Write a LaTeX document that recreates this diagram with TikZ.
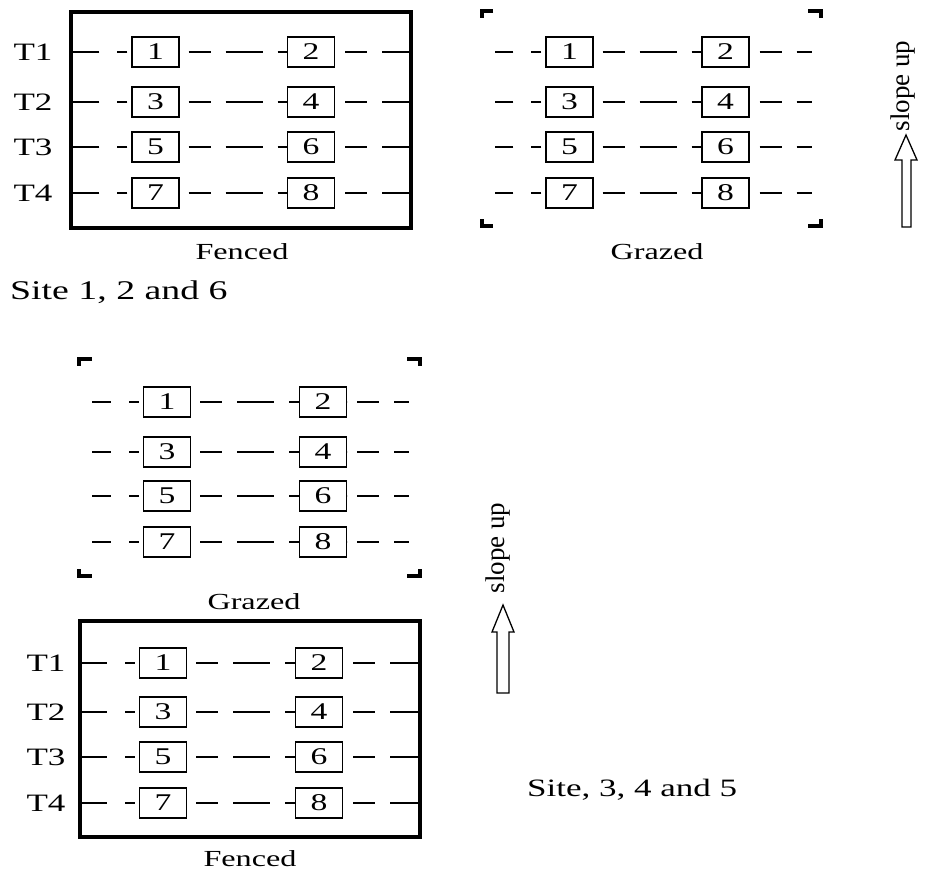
\documentclass[tikz,border=0pt]{standalone}
\usepackage{fontspec}
\setmainfont{Liberation Serif}[FakeStretch=1.4]
\newfontfamily\slopefont{Liberation Serif}
\usetikzlibrary{calc}
\tikzset{
  plot/.style={draw, line width=1.4pt, minimum width=47pt, minimum height=30pt, inner sep=0pt, font=\fontsize{24}{24}\selectfont},
  tlab/.style={inner sep=0pt, font=\fontsize{25}{25}\selectfont},
  lab/.style={inner sep=0pt, font=\fontsize{23}{23}\selectfont},
  sitelab/.style={inner sep=0pt, anchor=west, font=\fontsize{27}{27}\selectfont},
  slopelab/.style={inner sep=0pt, rotate=90, font=\slopefont\fontsize{27}{27}\selectfont},
  fence/.style={line width=4.5pt},
  corner/.style={line width=4pt},
  segL/.style={line width=1.3pt, dash pattern=on 10pt off 18pt on 200pt off 4pt, dash phase=228pt},
  segM/.style={line width=1.3pt, dash pattern=on 22pt off 15pt on 37pt off 15pt on 100pt off 9pt, dash phase=189pt},
  segR/.style={line width=1.3pt, dash pattern=on 22pt off 15pt on 200pt off 10pt, dash phase=237pt},
  slopearrow/.style={line width=1.3pt}
}
\begin{document}
\begin{tikzpicture}[x=1pt,y=-1pt]
\fill[white] (0,0) rectangle (926,872);
\useasboundingbox (0,0) rectangle (926,872);

% ---------- Top-left: Fenced (Site 1, 2 and 6) ----------
\foreach \i/\y/\a/\b in {1/52/1/2, 2/102/3/4, 3/147/5/6, 4/193/7/8} {
  \node[plot] (A\a) at (155.5,\y) {\a};
  \node[plot] (A\b) at (311,\y) {\b};
  \node[tlab] (AT\i) at (33,\y) {T\i};
  \coordinate (AL\i) at (71,\y);
  \coordinate (AR\i) at (411,\y);
  \draw[segL] (A\a.west) -- (AL\i);
  \draw[segM] (A\a.east) -- (A\b.west);
  \draw[segR] (A\b.east) -- (AR\i);
}
\draw[fence] (71,12) rectangle (411,228);
\node[lab] (Afenced) at (242,252) {Fenced};
\node[sitelab] (Asite) at (10,292) {Site 1, 2 and 6};

% ---------- Top-right: Grazed ----------
\foreach \i/\y/\a/\b in {1/52/1/2, 2/102/3/4, 3/147/5/6, 4/193/7/8} {
  \node[plot] (B\a) at (569.5,\y) {\a};
  \node[plot] (B\b) at (725.5,\y) {\b};
  \coordinate (BL\i) at (495,\y);
  \coordinate (BR\i) at (812,\y);
  \draw[segL] (B\a.west) -- (BL\i);
  \draw[segM] (B\a.east) -- (B\b.west);
  \draw[segR] (B\b.east) -- (BR\i);
}
\draw[corner] (493,11) -- (482,11) -- (482,18);
\draw[corner] (808,11) -- (821,11) -- (821,18);
\draw[corner] (482,219) -- (482,226) -- (493,226);
\draw[corner] (821,219) -- (821,226) -- (808,226);
\node[lab] (Bgrazed) at (657,252) {Grazed};

% top slope arrow
\draw[slopearrow] (902,227) -- (902,160) -- (895,160) -- (906,135) -- (917,160) -- (911,160) -- (911,227) -- cycle;
\node[slopelab] (Bslope) at (903,86) {slope up};

% ---------- Bottom: Grazed ----------
\foreach \i/\y/\a/\b in {1/402/1/2, 2/452/3/4, 3/496/5/6, 4/542/7/8} {
  \node[plot] (C\a) at (167,\y) {\a};
  \node[plot] (C\b) at (323,\y) {\b};
  \coordinate (CL\i) at (92,\y);
  \coordinate (CR\i) at (409,\y);
  \draw[segL] (C\a.west) -- (CL\i);
  \draw[segM] (C\a.east) -- (C\b.west);
  \draw[segR] (C\b.east) -- (CR\i);
}
\draw[corner] (92,359) -- (79,359) -- (79,366);
\draw[corner] (407,359) -- (420,359) -- (420,366);
\draw[corner] (79,569) -- (79,576) -- (92,576);
\draw[corner] (420,569) -- (420,576) -- (407,576);
\node[lab] (Cgrazed) at (254,602) {Grazed};

% ---------- Bottom: Fenced ----------
\foreach \i/\y/\a/\b in {1/663/1/2, 2/712/3/4, 3/757/5/6, 4/803/7/8} {
  \node[plot] (D\a) at (163,\y) {\a};
  \node[plot] (D\b) at (319,\y) {\b};
  \node[tlab] (DT\i) at (46,\y) {T\i};
  \coordinate (DL\i) at (80,\y);
  \coordinate (DR\i) at (420,\y);
  \draw[segL] (D\a.west) -- (DL\i);
  \draw[segM] (D\a.east) -- (D\b.west);
  \draw[segR] (D\b.east) -- (DR\i);
}
\draw[fence] (80,621) rectangle (420,837);
\node[lab] (Dfenced) at (250,859) {Fenced};

% bottom slope arrow
\draw[slopearrow] (497,693) -- (497,632) -- (492,632) -- (503,605) -- (514,632) -- (509,632) -- (509,693) -- cycle;
\node[slopelab] (Dslope) at (498,548) {slope up};

\node[sitelab, font=\fontsize{25}{25}\selectfont] (Dsite) at (527,790) {Site, 3, 4 and 5};
\end{tikzpicture}
\end{document}
